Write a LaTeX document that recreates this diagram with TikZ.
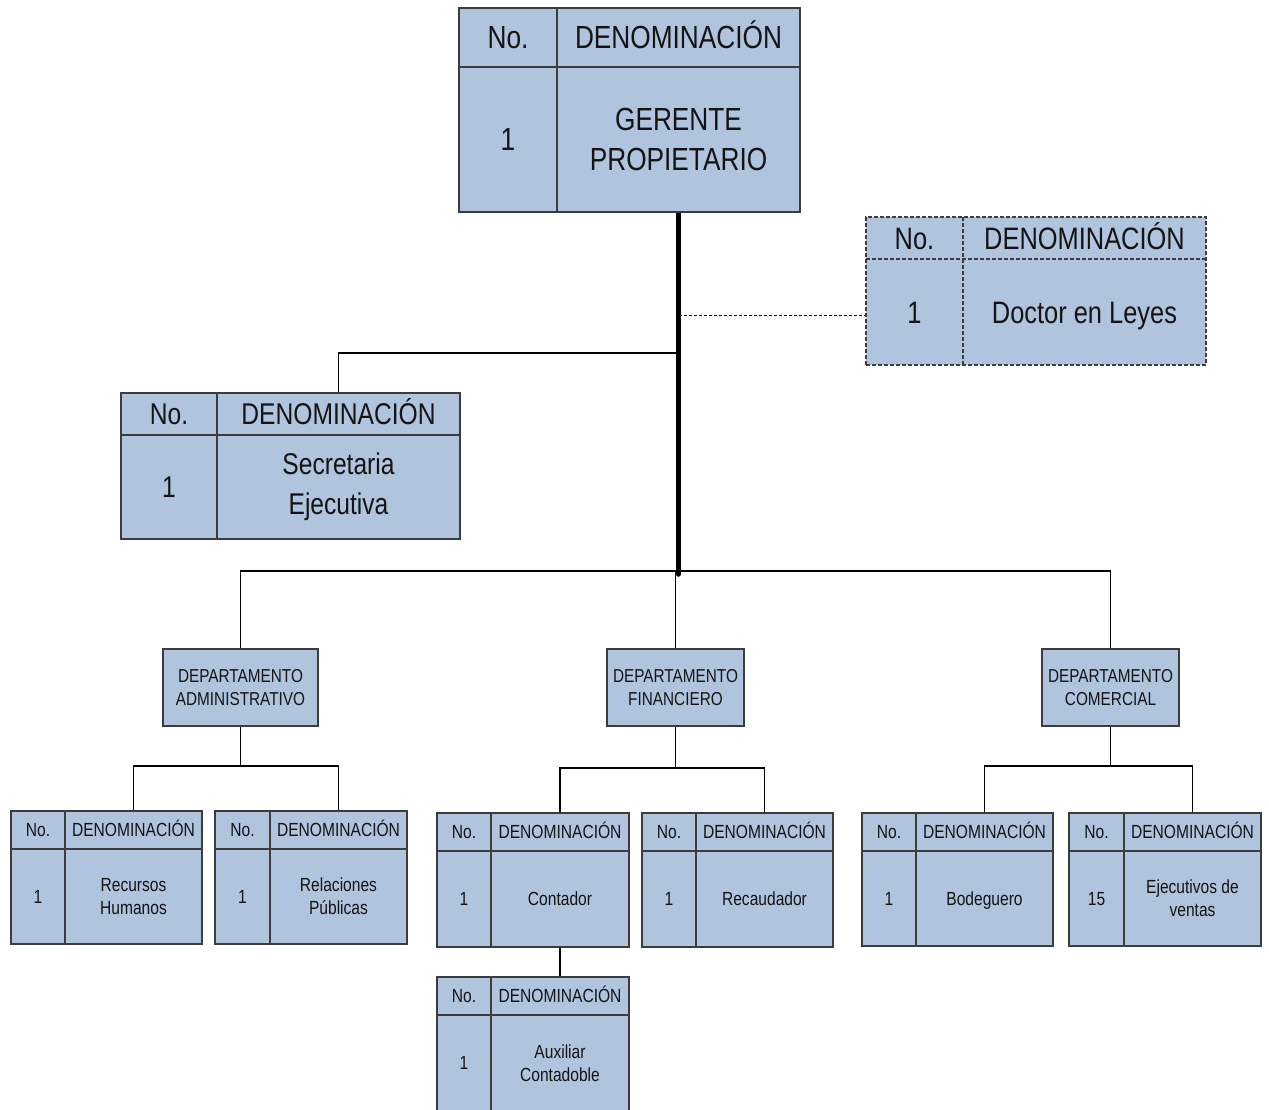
\documentclass[tikz,border=0pt]{standalone}
\usepackage{fontspec}
\setmainfont{Liberation Sans}[FakeStretch=0.82]
\usetikzlibrary{fit,backgrounds}
\definecolor{boxfill}{RGB}{176,196,222}
\definecolor{boxline}{RGB}{60,60,60}
\definecolor{inktext}{RGB}{20,20,20}

\tikzset{
  hdr/.store in=\OrgHdr, hdr=38,
  capht/.store in=\OrgCap, capht=13.6pt,
  tbl/.style={draw=boxline, fill=boxfill, line width=1.3pt, inner sep=0pt},
  cell/.style={draw=boxline, line width=1.3pt},
  dept/.style={draw=boxline, fill=boxfill, line width=1.3pt, inner sep=0pt,
    minimum height=77pt, align=center, text=inktext, font=\fontsize{18.7}{23}\selectfont},
  conn/.style={draw=black, line width=1.1pt},
  trunk/.style={draw=black, line width=5.5pt, line cap=round},
  bigtxt/.style={font=\fontsize{32}{40}\selectfont, capht=22.9pt},
  midtxt/.style={font=\fontsize{30}{40}\selectfont, capht=21.5pt},
  doctxt/.style={font=\fontsize{31}{40}\selectfont, capht=22.2pt},
  smalltxt/.style={font=\fontsize{19}{23}\selectfont, capht=13.6pt},
  dashbox/.style={dash pattern=on 4pt off 2pt, line width=0.9pt},
  celltxt/.style={align=center, text=inktext, inner sep=0pt},
  capline/.style={text height=\OrgCap, text depth=0pt},
  ttl/.style={},
  oneline/.style={ttl/.style={capline}},
}

% #1 style, #2 name, #3 left, #4 top, #5 right, #6 bottom, #7 column divider, #8 number, #9 title
\newcommand\OrgTable[9][]{%
  \begin{scope}[#1]
    \node[tbl, fit={(#3,#4) (#5,#6)}] (#2) {};
    \draw[cell] (#7,#4) -- (#7,#6);
    \draw[cell] (#3,{#4+\OrgHdr}) -- (#5,{#4+\OrgHdr});
    \node[celltxt, capline] (#2-hn) at ({(#3+#7)/2},{#4+\OrgHdr/2}) {No.};
    \node[celltxt, capline] (#2-hd) at ({(#7+#5)/2},{#4+\OrgHdr/2}) {DENOMINACIÓN};
    \node[celltxt, capline] (#2-n) at ({(#3+#7)/2},{(#4+\OrgHdr+#6)/2}) {#8};
    \node[celltxt, ttl] (#2-d) at ({(#7+#5)/2},{(#4+\OrgHdr+#6)/2}) {#9};
    \coordinate (#2-t) at ({(#7+#5)/2},#4);
    \coordinate (#2-b) at ({(#7+#5)/2},#6);
  \end{scope}}

\begin{document}
\begin{tikzpicture}[x=1pt, y=-1pt]
\useasboundingbox (0,0) rectangle (1269,1109);
\clip (0,0) rectangle (1269,1109);

% boxes
\OrgTable[bigtxt, hdr=59]{ger}{459}{8}{800}{212}{557}{1}{GERENTE\\PROPIETARIO}
\OrgTable[doctxt, hdr=42, dashbox, oneline]{doc}{866}{217}{1206}{365}{963}{1}{Doctor en Leyes}
\OrgTable[midtxt, hdr=42]{sec}{121}{393}{460}{539}{217}{1}{Secretaria\\Ejecutiva}

\node[dept, minimum width=155pt] (adm) at (240.5,687.5) {DEPARTAMENTO\\ADMINISTRATIVO};
\node[dept, minimum width=137pt] (fin) at (675.5,687.5) {DEPARTAMENTO\\FINANCIERO};
\node[dept, minimum width=137pt] (com) at (1110.5,687.5) {DEPARTAMENTO\\COMERCIAL};

\OrgTable[smalltxt]{rh}{11}{811}{202}{944}{65}{1}{Recursos\\Humanos}
\OrgTable[smalltxt]{rp}{215}{811}{407}{944}{270}{1}{Relaciones\\Públicas}
\OrgTable[smalltxt, oneline]{cont}{437}{813}{629}{947}{491}{1}{Contador}
\OrgTable[smalltxt, oneline]{rec}{642}{813}{833}{947}{696}{1}{Recaudador}
\OrgTable[smalltxt]{aux}{437}{977}{629}{1111}{491}{1}{Auxiliar\\Contadoble}
\OrgTable[smalltxt, oneline]{bod}{862}{813}{1053}{946}{916}{1}{Bodeguero}
\OrgTable[smalltxt]{eje}{1069}{813}{1261}{946}{1124}{15}{Ejecutivos de\\ventas}

% connectors
\begin{scope}[on background layer]
  \coordinate (bus) at (675.5,571);
  \coordinate (trunkend) at (678.5,574);
  \coordinate (secj) at (678.5,353);
  \coordinate (docj) at (678.5,315);
  \coordinate (admbus) at (240.5,766);
  \coordinate (finbus) at (675.5,768);
  \coordinate (combus) at (1110.5,766);

  \draw[conn] (sec-t) |- (secj);
  \draw[conn, dash pattern=on 3pt off 2pt, line width=0.9pt] (docj) -- (docj -| doc.west);
  \draw[conn] (adm.north) |- (bus) -| (com.north);
  \draw[conn] (fin.north) -- (bus);
  \draw[trunk] (ger-b) -- (trunkend);

  \draw[conn] (adm.south) -- (admbus);
  \draw[conn] (rh-t) |- (admbus) -| (rp-t);
  \draw[conn] (fin.south) -- (finbus);
  \draw[conn] (cont-t) |- (finbus) -| (rec-t);
  \draw[conn] (com.south) -- (combus);
  \draw[conn] (bod-t) |- (combus) -| (eje-t);
  \draw[conn] (cont-b) -- (aux-t);
\end{scope}
\end{tikzpicture}
\end{document}
